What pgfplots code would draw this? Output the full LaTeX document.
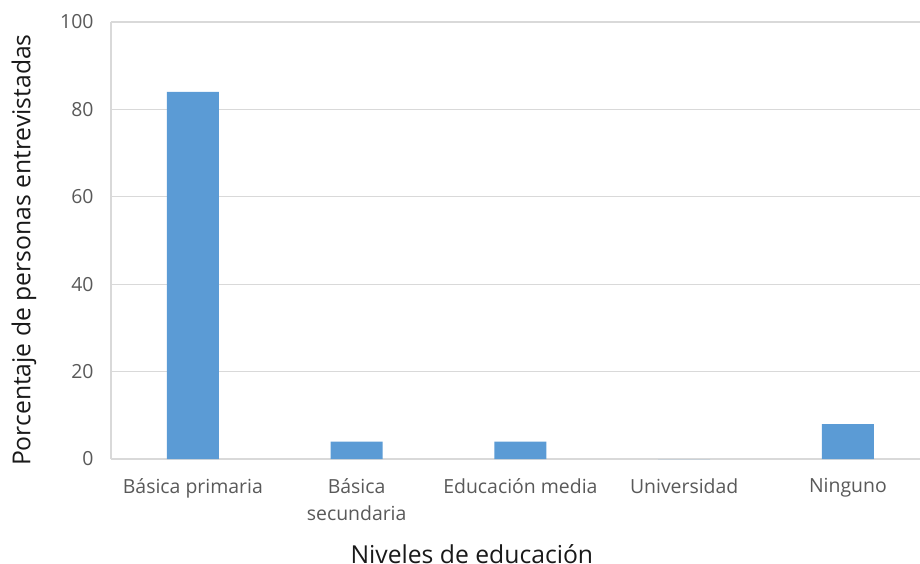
\documentclass[border=0pt]{standalone}
\usepackage{pgfplots}
\pgfplotsset{compat=1.18}
\usepackage{fontspec}
\setmainfont{Open Sans}
\definecolor{barblue}{HTML}{5B9BD5}
\definecolor{gridgray}{HTML}{D9D9D9}
\definecolor{labgray}{HTML}{595959}
\begin{document}
\begin{tikzpicture}
% image frame: 920 x 564 px, 1px = 1bp, axis box starts at (0,0)
\useasboundingbox (-111bp,-105bp) rectangle (809bp,459bp);
\begin{axis}[
    scale only axis,
    width=809bp, height=437bp,
    ybar, bar width=52bp,
    xmin=-0.5, xmax=4.44,
    ymin=0, ymax=100,
    xtick={0,1,2,3,4},
    xticklabels={B\'asica primaria, {B\'asica\\secundaria}, Educaci\'on media, Universidad, Ninguno},
    ytick={0,20,40,60,80,100},
    major tick length=0pt,
    axis x line*=bottom, axis y line*=left,
    axis line style={draw=gridgray, line width=1.2bp, -},
    ymajorgrids=true,
    grid style={draw=gridgray, line width=1.2bp},
    /pgf/number format/assume math mode=true,
    tick label style={font=\fontsize{19.5}{27}\selectfont, text=labgray},
    yticklabel style={anchor=east, xshift=-14bp},
    xticklabel style={align=center, anchor=north, yshift=-16bp},
    every axis y label/.style={at={(axis description cs:-0.1075,0.478)}, rotate=90, anchor=center},
    every axis x label/.style={at={(axis description cs:0.446,-0.238)}, anchor=base},
    label style={font=\fontsize{24.8}{28}\selectfont, text=black!90},
    xlabel={Niveles de educaci\'on},
    ylabel={Porcentaje de personas entrevistadas},
]
\addplot[fill=barblue, draw=none] coordinates {(0,84) (1,4) (2,4) (3,0) (4,8)};
\end{axis}
\end{tikzpicture}
\end{document}
